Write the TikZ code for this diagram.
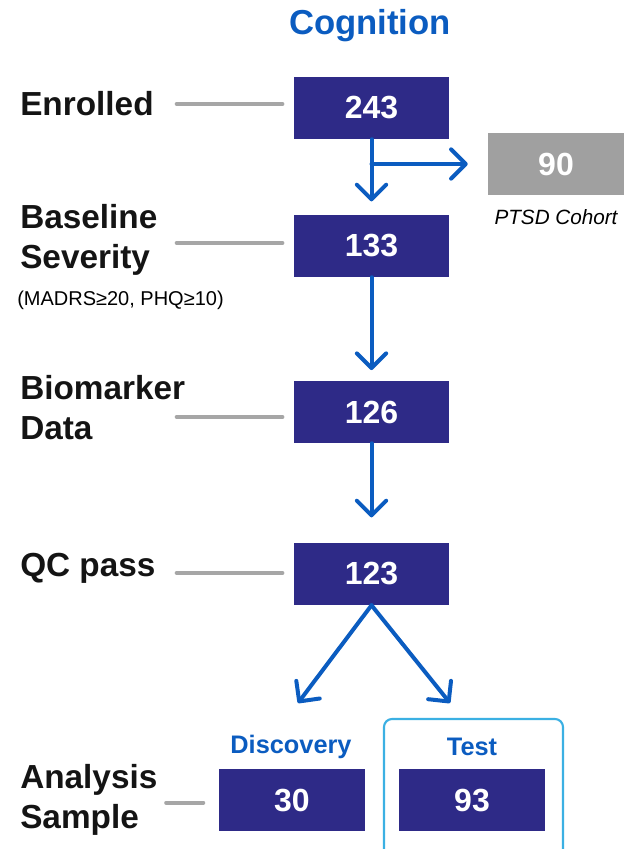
\documentclass[tikz,border=0pt]{standalone}
\usepackage{fontspec}
\setmainfont{Liberation Sans}
\usetikzlibrary{arrows.meta,calc}
\definecolor{navy}{HTML}{2E2A87}
\definecolor{flowblue}{HTML}{0B5CC0}
\definecolor{guidegray}{HTML}{A6A6A6}
\definecolor{boxgray}{HTML}{A0A0A0}
\definecolor{framecyan}{HTML}{3BB0E3}

\begin{document}
\begin{tikzpicture}[x=0.75pt, y=-0.75pt,
    countbox/.style={fill=navy, text=white, font=\bfseries\fontsize{24}{28}\selectfont,
      minimum width=116pt, minimum height=46.5pt, inner sep=0pt},
    splitbox/.style={countbox, minimum width=109.5pt},
    stage/.style={anchor=west, align=left, inner sep=0pt, text=black!92, font=\bfseries\fontsize{25}{30}\selectfont},
    flow/.style={draw=flowblue, line width=3pt, line cap=round,
      -{Straight Barb[length=11pt, width=22pt, line cap=round, line join=round]}},
    guide/.style={draw=guidegray, line width=2.8pt, line cap=round},
    group/.style={text=flowblue, font=\bfseries\fontsize{19}{22}\selectfont}]
  \useasboundingbox (0,0) rectangle (626,849);

  % title
  \node[text=flowblue, font=\bfseries\fontsize{26}{30}\selectfont] (title) at (370,26) {Cognition};

  % counts
  \node[countbox] (n243) at (371.5,108) {243};
  \node[countbox] (n133) at (371.5,246) {133};
  \node[countbox] (n126) at (371.5,412) {126};
  \node[countbox] (n123) at (371.5,574) {123};
  \node[countbox, fill=boxgray, minimum width=102pt] (n90) at (556,164) {90};
  \node[font=\itshape\fontsize{15.5}{18}\selectfont] (ptsd) at (556,217) {PTSD Cohort};

  % split
  \draw[framecyan, line width=1.6pt, rounded corners=6pt] (384,719) rectangle (563,870);
  \node[group] (disc) at (291,747) {Discovery};
  \node[group] (test) at (472,747) {Test};
  \node[splitbox] (n30) at (292,800) {30};
  \node[splitbox] (n93) at (472,800) {93};

  % stages
  \node[stage] (enrolled) at (20,104) {Enrolled};
  \node[stage] (baseline) at (20,240) {Baseline\\Severity};
  \node[anchor=west, inner sep=0pt, font=\fontsize{15}{18}\selectfont] (criteria) at (17,300) {(MADRS≥20, PHQ≥10)};
  \node[stage] (biomarker) at (20,408) {Biomarker\\Data};
  \node[stage] (qc) at (20,568) {QC pass};
  \node[stage] (analysis) at (20,800) {Analysis\\Sample};

  % guide lines
  \foreach \b/\dy in {n243/3pt, n133/2.25pt, n126/-3.75pt, n123/0.75pt}
    \draw[guide] ([xshift=-88pt, yshift=\dy]\b.west) -- ([xshift=-8.5pt, yshift=\dy]\b.west);
  \draw[guide] ([xshift=-39.5pt, yshift=-2pt]n30.west) -- ([xshift=-11.5pt, yshift=-2pt]n30.west);

  % arrows
  \draw[flow, shorten >=10pt] (n243.south) -- (n133.north);
  \draw[flow, shorten >=15pt] (n243.south |- n90.west) -- (n90.west);
  \draw[flow, shorten >=8pt] (n133.south) -- (n126.north);
  \draw[flow, shorten >=19pt] (n126.south) -- (n123.north);
  \coordinate (disctip) at (298,703);
  \coordinate (testtip) at (450,703);
  \draw[flow] (n123.south) -- (disctip);
  \draw[flow] (n123.south) -- (testtip);
\end{tikzpicture}
\end{document}
